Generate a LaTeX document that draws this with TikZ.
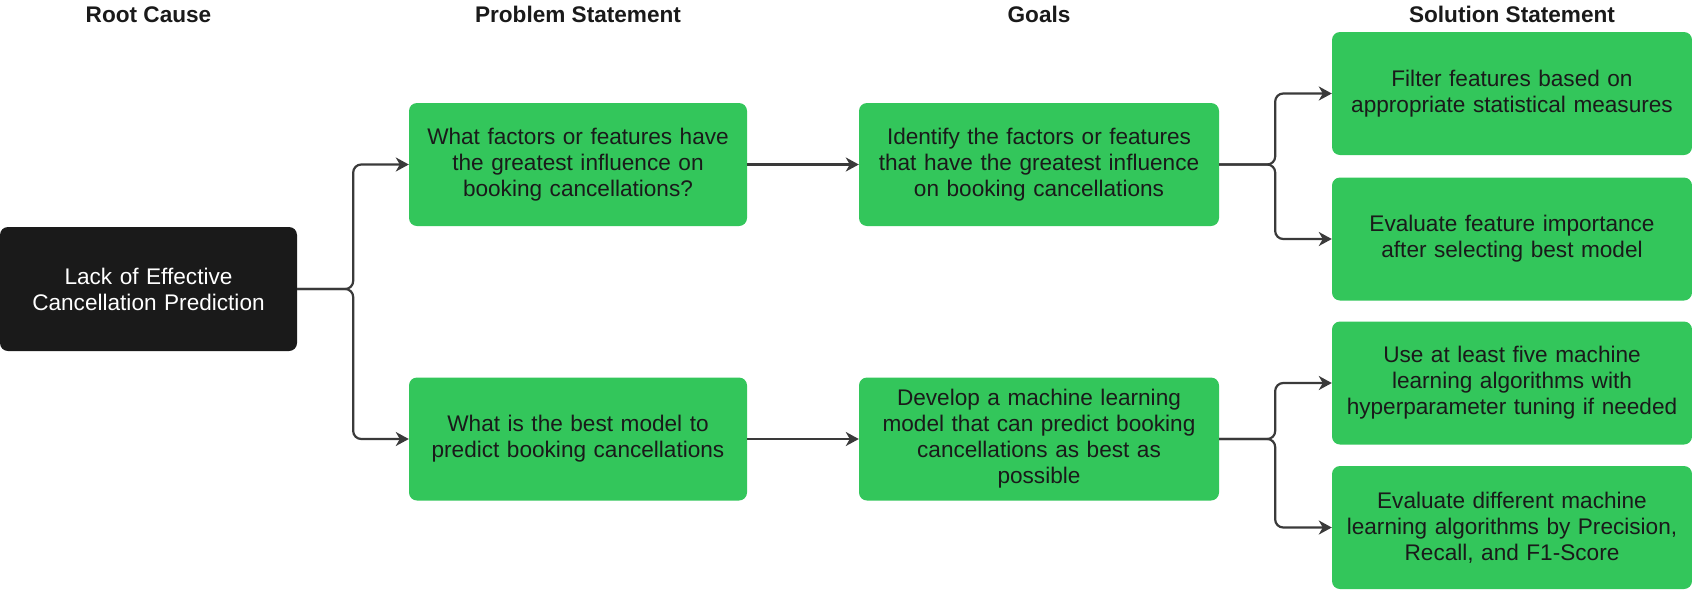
\documentclass[tikz,border=0pt]{standalone}
\usepackage{fontspec}
\setmainfont{Liberation Sans}
\usetikzlibrary{arrows.meta}
\usetikzlibrary{positioning}
\definecolor{boxgreen}{HTML}{33C65B}
\definecolor{boxblack}{HTML}{1A1A1A}
\definecolor{linkgray}{HTML}{3A3A3A}

\begin{document}
\begin{tikzpicture}[x=1pt, y=-1pt,
  every node/.style={font=\fontsize{22.6}{26}\selectfont},
  head/.style={font=\fontsize{22.6}{26}\selectfont\bfseries, anchor=base, text=boxblack},
  box/.style={rounded corners=8pt, align=center, inner sep=0pt, minimum height=123pt, text=boxblack, fill=boxgreen},
  rootbox/.style={box, fill=boxblack, text=white, minimum height=124pt},
  link/.style={draw=linkgray, line width=2.2pt, rounded corners=8pt, -{Stealth[length=13pt,width=14pt,inset=4pt]}}]
\useasboundingbox (0,0) rectangle (1692,590);

% column heads
\node[head] (h-root) at (148.5,22) {Root Cause};
\node[head] (h-prob) at (578,22) {Problem Statement};
\node[head] (h-goal) at (1039,22) {Goals};
\node[head] (h-sol)  at (1512,22) {Solution Statement};

% boxes
\node[rootbox, text width=297pt] (root) at (148.5,289) {Lack of Effective\\Cancellation Prediction};
\node[box, text width=338pt] (prob-feat) at (578,164.5) {What factors or features have\\the greatest influence on\\booking cancellations?};
\node[box, text width=338pt] (prob-model) at (578,439) {What is the best model to\\predict booking cancellations};
\node[box, text width=360pt] (goal-feat) at (1039,164.5) {Identify the factors or features\\that have the greatest influence\\on booking cancellations};
\node[box, text width=360pt] (goal-model) at (1039,439) {Develop a machine learning\\model that can predict booking\\cancellations as best as\\possible};
\node[box, text width=360pt] (sol-filter) at (1512,93.5) {Filter features based on\\appropriate statistical measures};
\node[box, text width=360pt] (sol-import) at (1512,239) {Evaluate feature importance\\after selecting best model};
\node[box, text width=360pt] (sol-algos) at (1512,383) {Use at least five machine\\learning algorithms with\\hyperparameter tuning if needed};
\node[box, text width=360pt] (sol-eval) at (1512,527.5) {Evaluate different machine\\learning algorithms by Precision,\\Recall, and F1-Score};

% connectors
\draw[link] (root.east) -- ++(56,0) |- (prob-feat.west);
\draw[link] (root.east) -- ++(56,0) |- (prob-model.west);
\draw[link] (prob-feat.east) -- (goal-feat.west);
\draw[link] (prob-model.east) -- (goal-model.west);
\draw[link] (goal-feat.east) -- ++(56,0) |- (sol-filter.west);
\draw[link] (goal-feat.east) -- ++(56,0) |- (sol-import.west);
\draw[link] (goal-model.east) -- ++(56,0) |- (sol-algos.west);
\draw[link] (goal-model.east) -- ++(56,0) |- (sol-eval.west);
\end{tikzpicture}
\end{document}
